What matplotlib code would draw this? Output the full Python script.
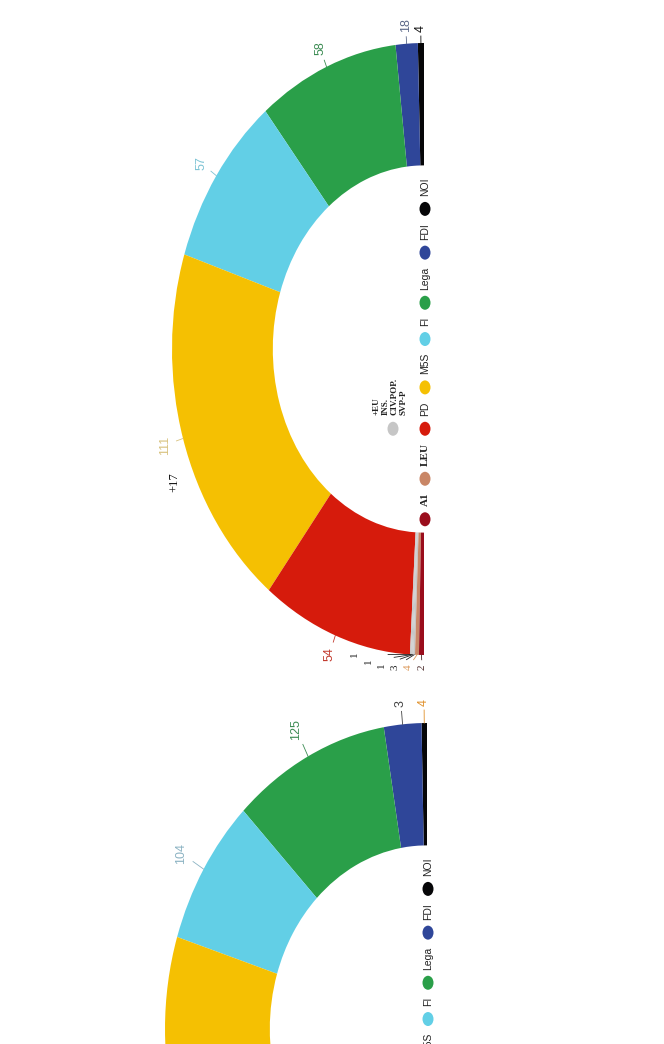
import matplotlib.pyplot as plt
from matplotlib.patches import Ellipse
import numpy as np

W, H = 664, 1044

# upper ring (Senato)
senato_parties = ['NOI', 'FDI', 'Lega', 'FI', 'M5S', 'PD',
                  '+EU', 'INS.', 'CIV.POP.', 'SVP-P', 'LEU', 'A1']
senato_labels = ['4', '18', '58', '57', '111', '54', '1', '1', '1', '3', '4', '2']
senato_arc = [1.4, 5.1, 32.5, 33.0, 70.0, 34.8, 0.25, 0.25, 0.25, 0.4, 0.9, 1.15]
senato_note = '+17'

# lower ring (Camera), cut by the bottom edge
camera_parties = ['NOI', 'FDI', 'Lega', 'FI', 'M5S', 'PD', 'LEU']
camera_labels = ['4', '3', '125', '104', '', '', '']
camera_arc = [1.2, 8.3, 35.0, 28.0, 70.0, 34.5, 3.0]

legend_parties = ['NOI', 'FDI', 'Lega', 'FI', 'M5S', 'PD', 'LEU', 'A1']
group_parties = ['+EU', 'INS.', 'CIV.POP.', 'SVP-P']

party_color = {'NOI': '#060608', 'FDI': '#2f4699', 'Lega': '#2a9f49',
               'FI': '#62cfe6', 'M5S': '#f5c002', 'PD': '#d61b0c',
               '+EU': '#c6c6c6', 'INS.': '#c6c6c6', 'CIV.POP.': '#c6c6c6',
               'SVP-P': '#c6c6c6', 'LEU': '#c98666', 'A1': '#9a0d1c'}

senato_label_colors = ['#111111', '#5b6888', '#3c8c53', '#7cc3d4', '#d8c27e', '#c23a2e',
                       '#222222', '#222222', '#222222', '#222222', '#dc9a5c', '#4a2a2a']
camera_label_colors = ['#e0902a', '#444444', '#3c8c53', '#8ab2c2', '#d8c27e', '#c23a2e', '#dc9a5c']

fig = plt.figure(figsize=(W / 100, H / 100), dpi=100)
fig.patch.set_facecolor('white')
renderer = fig.canvas.get_renderer()

sans = dict(family='Liberation Sans', fontsize=7.5, color='#222222')
serif_bold = dict(family='Liberation Serif', fontsize=8, weight='bold', color='#222222')
legend_font = {'A1': serif_bold, 'LEU': serif_bold}


def draw_ring(cx, cy, rx, ry, parties, arc, labels, label_colors,
              tail=0, legend=None, pad=11):
    ax = fig.add_axes([0, 0, 1, 1])
    ax.patch.set_alpha(0)

    def P(px, py):
        return (px - cx) / rx, (cy - py) / ry

    colors = [party_color[p] for p in parties]
    ax.pie(arc + [sum(arc)], colors=colors + ['none'], startangle=90, counterclock=True,
           radius=1, wedgeprops=dict(width=0.4, linewidth=0))
    ax.set_aspect('auto')
    ax.set_xlim(-cx / rx, (W - cx) / rx)
    ax.set_ylim((cy - H) / ry, cy / ry)
    ax.set_axis_off()

    edges = 90 + np.concatenate([[0], np.cumsum(arc)])
    mids = (edges[:-1] + edges[1:]) / 2
    n = len(parties)
    for i, (lab, col, th) in enumerate(zip(labels, label_colors, mids)):
        if not lab:
            continue
        t = np.radians(th)
        ox, oy = cx + rx * np.cos(t), cy - ry * np.sin(t)
        ux, uy = ox - cx, oy - cy
        nrm = np.hypot(ux, uy)
        ux, uy = ux / nrm, uy / nrm
        k = n - 1 - i
        if k < tail:
            # small slices at the left end: labels fanned out in a column
            lx = cx - 2 - 13.5 * k
            ly = cy + ry + 12 - 1.4 * max(0, k - 2) ** 2
            ax.plot(*zip(P(ox, oy), P(ox + (lx - ox) * 0.4, oy + (ly - oy) * 0.4)),
                    color=col, lw=0.6)
            ax.text(*P(lx, ly), lab, rotation=90, ha='center', va='center',
                    family='Liberation Serif', fontsize=8, color=col)
            continue
        ext = abs(ux) * 5 + abs(uy) * 3.6 * len(lab)
        d = pad + ext
        ax.plot(*zip(P(ox, oy), P(ox + ux * (pad - 4), oy + uy * (pad - 4))),
                color=col, lw=0.6)
        ax.text(*P(ox + ux * d, oy + uy * d), lab, rotation=90, ha='center', va='center',
                family='Liberation Sans', fontsize=9, color=col)

    if legend is None:
        return ax, P

    lx = cx + 1
    y = cy - 0.6 * ry + 12
    spots = {}
    for name in legend:
        t = ax.text(*P(lx, y), name, rotation=90,
                    ha='center', va='top', **legend_font.get(name, sans))
        y += t.get_window_extent(renderer).height + 13
        ax.add_patch(Ellipse(P(lx, y), 11 / rx, 14 / ry, color=party_color[name], lw=0))
        spots[name] = y
        y += 14
    return ax, P, spots


ax, P, spots = draw_ring(424, 349, 252, 306, senato_parties, senato_arc, senato_labels,
                         senato_label_colors, tail=6, legend=legend_parties)

# grey group entry stacked above PD
gy = spots['PD']
ax.add_patch(Ellipse(P(393, gy), 11 / 252, 14 / 306, color=party_color['+EU'], lw=0))
ax.text(*P(390, gy - 14), '\n'.join(group_parties), rotation=90, ha='center', va='bottom',
        multialignment='left', linespacing=1.15, family='Liberation Serif',
        fontsize=6.5, weight='bold', color='#222222')

# note beside the yellow block
t = np.radians(204.5)
ax.text(*P(424 + 252 * np.cos(t) - 20, 349 - 306 * np.sin(t) + 6), senato_note,
        rotation=90, ha='center', va='center', family='Liberation Serif',
        fontsize=9, color='#111111')

draw_ring(427, 1029, 262, 306, camera_parties, camera_arc, camera_labels,
          camera_label_colors, legend=legend_parties[:5], pad=17)

fig.savefig('out.png', dpi=100, facecolor='white')
